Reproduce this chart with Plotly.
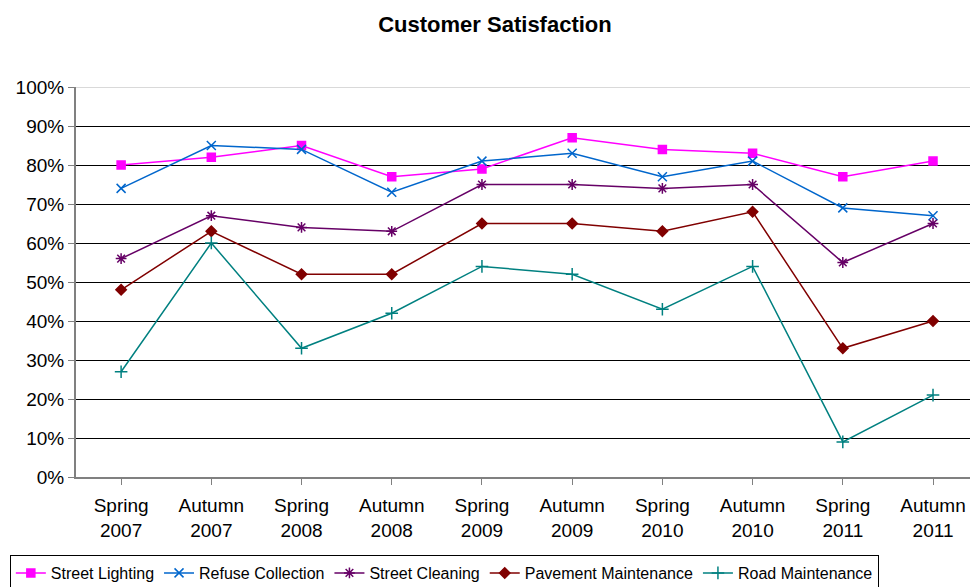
import plotly.graph_objects as go

categories = ["Spring<br>2007", "Autumn<br>2007", "Spring<br>2008", "Autumn<br>2008", "Spring<br>2009",
              "Autumn<br>2009", "Spring<br>2010", "Autumn<br>2010", "Spring<br>2011", "Autumn<br>2011"]
street_lighting = [80, 82, 85, 77, 79, 87, 84, 83, 77, 81]
refuse_collection = [74, 85, 84, 73, 81, 83, 77, 81, 69, 67]
street_cleaning = [56, 67, 64, 63, 75, 75, 74, 75, 55, 65]
pavement_maintenance = [48, 63, 52, 52, 65, 65, 63, 68, 33, 40]
road_maintenance = [27, 60, 33, 42, 54, 52, 43, 54, 9, 21]
y_ticks = list(range(0, 101, 10))

series = [
    ("Street Lighting", street_lighting, "#FF00FF", "square", 8),
    ("Refuse Collection", refuse_collection, "#0066CC", "x-thin-open", 9),
    ("Street Cleaning", street_cleaning, "#660066", "asterisk-open", 9),
    ("Pavement Maintenance", pavement_maintenance, "#800000", "diamond", 8),
    ("Road Maintenance", road_maintenance, "#008080", "cross-thin-open", 9),
]

fig = go.Figure()
x = list(range(len(categories)))
for name, vals, color, sym, size in series:
    fig.add_trace(go.Scatter(
        x=x, y=vals, name=name, mode="lines+markers",
        line=dict(color=color, width=1.5),
        marker=dict(symbol=sym, size=size, color=color, line=dict(color=color, width=1.5)),
    ))

# light top border line at 100%
fig.add_shape(type="line", xref="paper", yref="y", x0=0, x1=1, y0=100, y1=100,
              line=dict(color="#D9D9D9", width=2), layer="below")

fig.update_layout(
    width=970, height=587,
    margin=dict(l=76, r=0, t=87, b=110, autoexpand=False),
    paper_bgcolor="white", plot_bgcolor="white",
    font=dict(family="Liberation Sans, Arial, sans-serif", color="black", size=19),
    title=dict(text="<b>Customer Satisfaction</b>", x=0.5103, xanchor="center", y=0.972, yanchor="top",
               font=dict(size=22)),
    showlegend=True,
    legend=dict(orientation="h", x=-0.074, xanchor="left", y=-0.2, yanchor="top",
                bordercolor="black", borderwidth=1, font=dict(size=16),
                tracegroupgap=0),
    xaxis=dict(
        tickmode="array", tickvals=x, ticktext=categories,
        range=[-0.5, 9.41], showgrid=False, zeroline=False, automargin=False,
        showline=True, linecolor="#808080", linewidth=2,
        ticks="outside", tickson="boundaries", ticklen=6, tickcolor="#808080",
        tickfont=dict(size=19), ticklabelstandoff=4, fixedrange=True,
    ),
    yaxis=dict(
        range=[0, 100], tickvals=y_ticks, ticktext=[f"{v}%" for v in y_ticks],
        showgrid=True, gridcolor="black", gridwidth=1, zeroline=False, automargin=False,
        showline=True, linecolor="#808080", linewidth=2,
        ticks="outside", ticklen=6, tickcolor="#808080",
        tickfont=dict(size=19),
    ),
)

fig.write_html("out.html")
